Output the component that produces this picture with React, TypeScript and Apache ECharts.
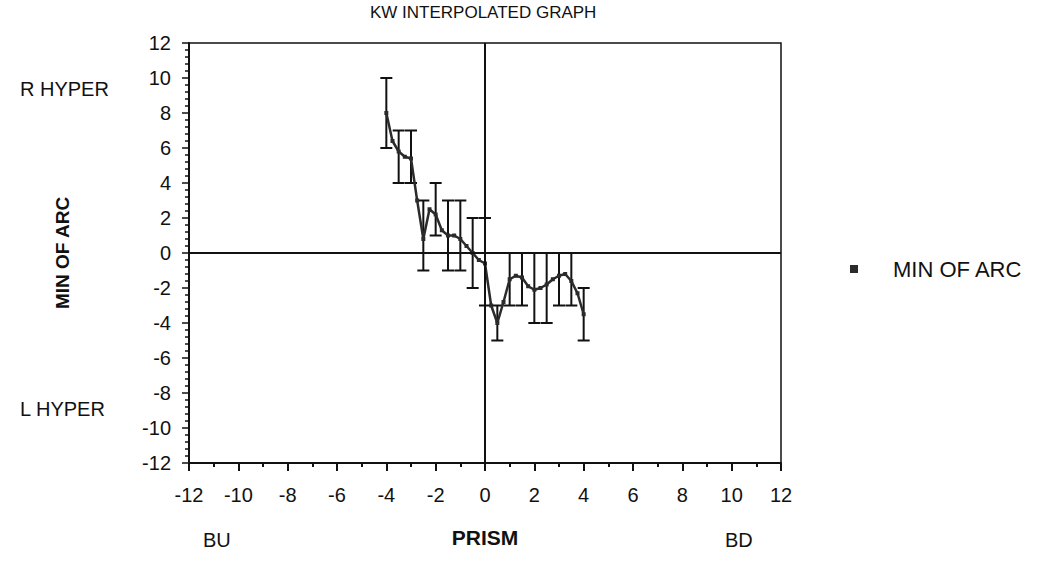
import React, { useEffect, useRef } from "react";
import * as echarts from "echarts";

// Interpolated curve: prism (x) vs. minutes of arc (y)
const prismX = [
  -4, -3.75, -3.5, -3.25, -3, -2.75, -2.5, -2.25, -2, -1.75, -1.5, -1.25, -1,
  -0.75, -0.5, -0.25, 0, 0.25, 0.5, 0.75, 1, 1.25, 1.5, 1.75, 2, 2.25, 2.5,
  2.75, 3, 3.25, 3.5, 3.75, 4,
];
const arcMin = [
  8, 6.4, 5.8, 5.5, 5.4, 3, 0.8, 2.5, 2.2, 1.3, 1.0, 1.0, 0.8, 0.4, 0, -0.4,
  -0.6, -3, -4, -2.8, -1.5, -1.3, -1.4, -1.9, -2.1, -2.0, -1.8, -1.5, -1.3,
  -1.2, -1.6, -2.3, -3.5,
];

// Error bars at the measured prism values
const barX = [-4, -3.5, -3, -2.5, -2, -1.5, -1, -0.5, 0, 0.5, 1, 1.5, 2, 2.5, 3, 3.5, 4];
const barLow = [6, 4, 4, -1, 1, -1, -1, -2, -3, -5, -3, -3, -4, -4, -3, -3, -5];
const barHigh = [10, 7, 7, 3, 4, 3, 3, 2, 2, -3, 0, 0, 0, 0, 0, 0, -2];

const axisTicks = [-12, -10, -8, -6, -4, -2, 0, 2, 4, 6, 8, 10, 12];

const FONT = "'Liberation Sans', Arial, Helvetica, sans-serif";
const INK = "#111";

export default function App() {
  const ref = useRef<HTMLDivElement>(null);

  useEffect(() => {
    if (!ref.current) return;
    const chart = echarts.init(ref.current, undefined, { renderer: "svg" });

    const lineData = prismX.map((x, i) => [x, arcMin[i]]);
    const barData = barX.map((x, i) => [x, barLow[i], barHigh[i]]);

    const tickMin = axisTicks[0];
    const tickMax = axisTicks[axisTicks.length - 1];
    const tickStep = axisTicks[1] - axisTicks[0];

    chart.setOption({
      animation: false,
      textStyle: { fontFamily: FONT, color: INK },
      grid: {
        left: 189,
        right: 256,
        top: 43,
        bottom: 102,
        show: true,
        borderColor: INK,
        borderWidth: 1.5,
      },
      legend: {
        data: ["MIN OF ARC"],
        left: 845,
        top: 253,
        icon: "rect",
        itemWidth: 8,
        itemHeight: 8,
        textStyle: {
          fontFamily: FONT,
          fontSize: 22,
          color: INK,
          padding: [0, 0, 0, 30],
        },
      },
      xAxis: {
        type: "value",
        min: tickMin,
        max: tickMax,
        interval: tickStep,
        name: "PRISM",
        nameLocation: "middle",
        nameGap: 64,
        nameTextStyle: { fontFamily: FONT, fontSize: 21, fontWeight: "bold", color: INK },
        axisLine: { onZero: false, lineStyle: { color: INK, width: 2 } },
        axisTick: { show: true, inside: false, length: 8, lineStyle: { color: INK, width: 2 } },
        minorTick: { show: true, splitNumber: 2, length: 4, lineStyle: { color: INK, width: 2 } },
        axisLabel: { fontFamily: FONT, fontSize: 20, color: INK, margin: 22 },
        splitLine: { show: false },
      },
      yAxis: {
        type: "value",
        min: tickMin,
        max: tickMax,
        interval: tickStep,
        name: "MIN OF ARC",
        nameLocation: "middle",
        nameRotate: 90,
        nameGap: 117,
        nameTextStyle: { fontFamily: FONT, fontSize: 19, fontWeight: "bold", color: INK },
        axisLine: { onZero: false, lineStyle: { color: INK, width: 2 } },
        axisTick: { show: true, inside: false, length: 7, lineStyle: { color: INK, width: 1.5 } },
        minorTick: { show: true, splitNumber: 5, length: 4, lineStyle: { color: INK, width: 1.5 } },
        axisLabel: { fontFamily: FONT, fontSize: 20, color: INK, margin: 18 },
        splitLine: { show: false },
      },
      graphic: [
        {
          type: "text",
          left: 370,
          top: 4,
          style: { text: "KW INTERPOLATED GRAPH", font: `17px ${FONT}`, fill: INK },
        },
        {
          type: "text",
          left: 20,
          top: 79,
          style: { text: "R HYPER", font: `20px ${FONT}`, fill: INK },
        },
        {
          type: "text",
          left: 20,
          top: 399,
          style: { text: "L HYPER", font: `20px ${FONT}`, fill: INK },
        },
        {
          type: "text",
          left: 203,
          top: 530,
          style: { text: "BU", font: `20px ${FONT}`, fill: INK },
        },
        {
          type: "text",
          left: 725,
          top: 530,
          style: { text: "BD", font: `20px ${FONT}`, fill: INK },
        },
      ],
      series: [
        {
          name: "MIN OF ARC",
          type: "line",
          data: lineData,
          symbol: "rect",
          symbolSize: 4,
          lineStyle: { color: "#2b2b2b", width: 2.5 },
          itemStyle: { color: "#2b2b2b" },
          z: 3,
          markLine: {
            silent: true,
            symbol: "none",
            label: { show: false },
            lineStyle: { color: INK, width: 2, type: "solid" },
            data: [{ xAxis: 0 }, { yAxis: 0 }],
          },
        },
        {
          name: "range",
          type: "custom",
          data: barData,
          encode: { x: 0, y: [1, 2] },
          z: 2,
          renderItem: (_params: any, api: any) => {
            const x = api.value(0);
            const lo = api.coord([x, api.value(1)]);
            const hi = api.coord([x, api.value(2)]);
            const cap = 6;
            const style = { stroke: INK, lineWidth: 2 };
            return {
              type: "group",
              children: [
                { type: "line", shape: { x1: lo[0], y1: lo[1], x2: hi[0], y2: hi[1] }, style },
                { type: "line", shape: { x1: lo[0] - cap, y1: lo[1], x2: lo[0] + cap, y2: lo[1] }, style },
                { type: "line", shape: { x1: hi[0] - cap, y1: hi[1], x2: hi[0] + cap, y2: hi[1] }, style },
              ],
            };
          },
        },
      ],
    });

    return () => chart.dispose();
  }, []);

  return (
    <div
      ref={ref}
      style={{ position: "fixed", left: 0, top: 0, width: 1037, height: 565, background: "#fff" }}
    />
  );
}
